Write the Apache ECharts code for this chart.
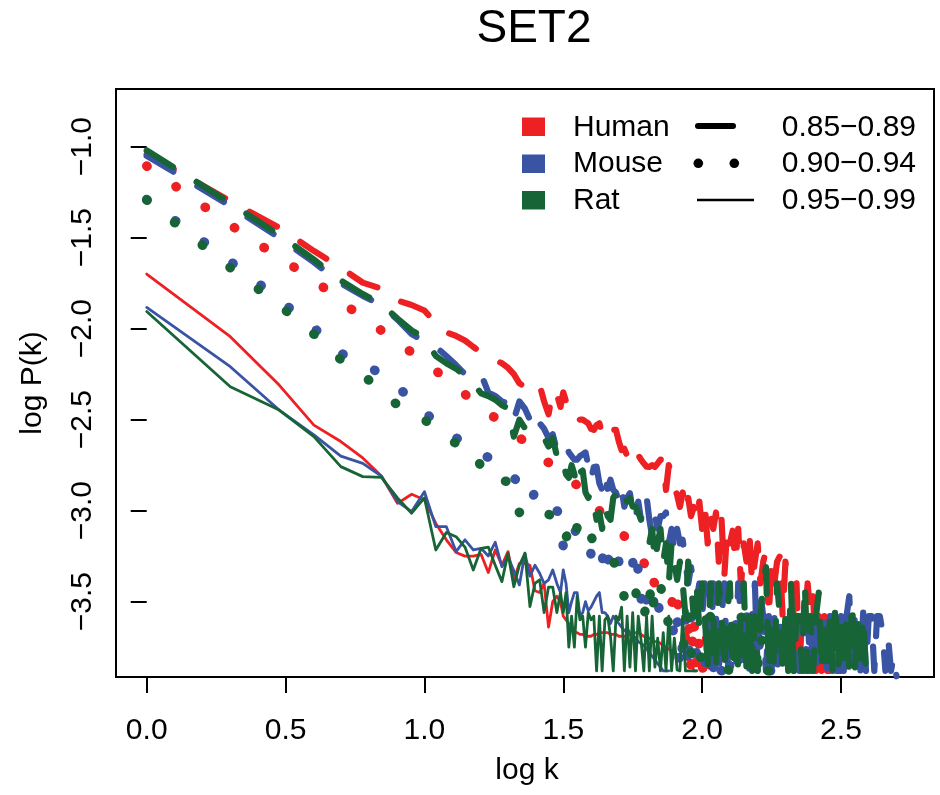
<!DOCTYPE html>
<html>
<head>
<meta charset="utf-8">
<script src="https://cdn.jsdelivr.net/npm/echarts@6/dist/echarts.min.js"></script>
<style>
  html, body { margin: 0; padding: 0; background: #fff; }
  #chart { width: 940px; height: 795px; }
</style>
</head>
<body>
<div id="chart"></div>
<script>
// log10 of degree k (k = 1..30, then a finer grid through the tail)
const logK = [
  0, 0.301, 0.477, 0.602, 0.699, 0.778, 0.845, 0.903, 0.954, 1.000,
  1.041, 1.079, 1.114, 1.146, 1.176, 1.204, 1.230, 1.255, 1.279, 1.301,
  1.322, 1.342, 1.362, 1.380, 1.398, 1.415, 1.431, 1.447, 1.462, 1.477,
  1.49, 1.50, 1.51, 1.52, 1.53, 1.54, 1.55, 1.56, 1.57, 1.58,
  1.59, 1.60, 1.61, 1.62, 1.63, 1.64, 1.65, 1.66, 1.67, 1.68,
  1.69, 1.70, 1.71, 1.72, 1.73, 1.74, 1.75, 1.76, 1.77, 1.78,
  1.79, 1.80, 1.81, 1.82, 1.83, 1.84, 1.85, 1.86, 1.87, 1.88,
  1.89, 1.90, 1.91, 1.92, 1.93, 1.94, 1.95, 1.96, 1.97, 1.98,
  1.99, 2.00, 2.01, 2.02, 2.03, 2.04, 2.05, 2.06, 2.07, 2.08,
  2.09, 2.10, 2.11, 2.12, 2.13, 2.14, 2.15, 2.16, 2.17, 2.18,
  2.19, 2.20, 2.21, 2.22, 2.23, 2.24, 2.25, 2.26, 2.27, 2.28,
  2.29, 2.30, 2.31, 2.32, 2.33, 2.34, 2.35, 2.36, 2.37, 2.38,
  2.39, 2.40, 2.41, 2.42, 2.43, 2.44, 2.45, 2.46, 2.47, 2.48,
  2.49, 2.50, 2.51, 2.52, 2.53, 2.54, 2.55, 2.56, 2.57, 2.58,
  2.59, 2.60, 2.61, 2.62, 2.63, 2.64, 2.65, 2.66, 2.67, 2.68,
  2.69, 2.70
];

// log P(k), threshold 0.85-0.89
const humanA = [
  -1.04, -1.30, -1.445, -1.573, -1.665, -1.747, -1.78, -1.845, -1.87, -1.90,
  -1.97, -2.02, -2.04, -2.065, -2.10, -2.13, -2.15, -2.17, -2.19, -2.215,
  -2.25, -2.30, -2.32, -2.34, -2.33, -2.31, -2.40, -2.47, -2.34, -2.36,
  -2.43, -2.35, -2.40, -2.45, -2.47, -2.46, -2.48, -2.50, -2.50, -2.51,
  -2.52, -2.55, -2.556, -2.53, -2.52, -2.58, -2.61, -2.58, -2.57, -2.556,
  -2.556, -2.62, -2.667, -2.66, -2.70, -2.75, -2.72, -2.70, -2.694, -2.72,
  -2.74, -2.758, -2.76, -2.75, -2.76, -2.74, -2.72, -2.72, -2.886, -2.75,
  -2.80, -2.87, -2.914, -2.98, -2.90, -3.00, -2.93, -3.03, -2.98, -3.05,
  -2.95, -3.10, -2.98, -3.18, -3.03, -3.10, -3.01, -3.28, -3.05, -3.36,
  -3.10, -3.18, -3.11, -3.28, -3.10, -3.42, -3.18, -3.28, -3.12, -3.40,
  -3.28, -3.18, -3.40, -3.28, -3.22, -3.58, -3.28, -3.40, -3.28, -3.25,
  -3.58, -3.28, -3.40, -3.38, -3.58, -3.40, -3.88, -3.58, -3.60, -3.40,
  -3.58, -3.47, -3.88, -3.58, -3.88, -3.58, -3.88, -3.88, -3.58, -3.88,
  -3.88, -3.88
];
const mouseA = [
  -1.05, -1.325, -1.50, -1.635, -1.75, -1.82, -1.87, -1.95, -2.03, -2.07,
  -2.10, -2.15, -2.20, -2.25, -2.27, -2.25, -2.35, -2.37, -2.40, -2.41,
  -2.50, -2.40, -2.44, -2.50, -2.45, -2.52, -2.55, -2.60, -2.58, -2.67,
  -2.66, -2.64, -2.63, -2.68, -2.70, -2.72, -2.72, -2.70, -2.69, -2.68,
  -2.75, -2.83, -2.76, -2.758, -2.85, -2.886, -2.80, -2.88, -2.83, -2.886,
  -2.90, -2.95, -2.88, -2.978, -2.93, -2.904, -3.00, -3.05, -2.95, -3.05,
  -2.93, -2.923, -3.05, -3.14, -3.03, -3.10, -3.03, -3.03, -3.01, -3.18,
  -3.10, -3.234, -3.10, -3.18, -3.16, -3.28, -3.40, -3.31, -3.40, -3.49,
  -3.40, -3.58, -3.40, -3.58, -3.88, -3.40, -3.58, -3.88, -3.58, -3.40,
  -3.88, -3.58, -3.58, -3.88, -3.40, -3.58, -3.88, -3.58, -3.88, -3.58,
  -3.40, -3.88, -3.45, -3.58, -3.88, -3.58, -3.88, -3.58, -3.88, -3.58,
  -3.88, -3.58, -3.88, -3.58, -3.88, -3.58, -3.88, -3.58, -3.88, -3.58,
  -3.88, -3.58, -3.88, -3.58, -3.88, -3.58, -3.88, -3.58, -3.88, -3.58,
  -3.88, -3.58, -3.88, -3.58, -3.47, -3.88, -3.58, -3.60, -3.88, -3.56,
  -3.88, -3.58, -3.58, -3.88, -3.58, -3.58, -3.67, -3.88, -3.70, -3.88,
  -3.80, -3.91
];
const ratA = [
  -1.02, -1.31, -1.485, -1.62, -1.735, -1.81, -1.865, -1.945, -2.01, -2.05,
  -2.15, -2.19, -2.22, -2.26, -2.30, -2.355, -2.37, -2.39, -2.42, -2.437,
  -2.593, -2.50, -2.547, -2.55, -2.56, -2.566, -2.60, -2.648, -2.60, -2.70,
  -2.76, -2.74, -2.80, -2.82, -2.75, -2.80, -2.87, -2.79, -2.78, -2.90,
  -2.93, -2.90, -2.96, -3.05, -3.01, -3.10, -2.98, -3.03, -3.05, -2.93,
  -2.904, -2.90, -2.93, -2.896, -2.95, -2.93, -2.978, -2.98, -3.01, -3.05,
  -3.09, -3.10, -3.18, -3.10, -3.28, -3.18, -3.10, -3.28, -3.18, -3.40,
  -3.18, -3.28, -3.38, -3.28, -3.40, -3.58, -3.28, -3.40, -3.58, -3.40,
  -3.65, -3.40, -3.58, -3.88, -3.40, -3.58, -3.88, -3.40, -3.58, -3.88,
  -3.58, -3.40, -3.88, -3.58, -3.88, -3.58, -3.40, -3.88, -3.58, -3.88,
  -3.58, -3.88, -3.58, -3.40, -3.31, -3.88, -3.58, -3.88, -3.40, -3.58,
  -3.88, -3.58, -3.88, -3.40, -3.88, -3.58, -3.58, -3.88, -3.40, -3.88,
  -3.58, -3.88, -3.58, -3.45, -3.88, -3.58, -3.88, -3.58, -3.88, -3.50,
  -3.88, -3.58, -3.88, -3.58, -3.88, -3.50, -3.88, -3.58, -3.88, -3.58,
  -3.88
];

// log P(k), threshold 0.90-0.94
const humanB = [
  -1.106, -1.43, -1.61, -1.731, -1.85, -1.94, -2.01, -2.08, -2.13, -2.18,
  -2.23, -2.28, -2.32, -2.36, -2.40, -2.43, -2.465, -2.49, -2.52, -2.55,
  -2.57, -2.60, -2.62, -2.65, -2.68, -2.70, -2.72, -2.736, -2.75, -2.77,
  -2.79, -2.80, -2.81, -2.83, -2.84, -2.85, -2.86, -2.877, -2.89, -2.91,
  -2.93, -2.95, -2.96, -2.98, -3.00, -3.02, -3.03, -3.05, -3.06, -3.08,
  -3.10, -3.11, -3.12, -3.14, -3.16, -3.18, -3.18, -3.20, -3.22, -3.23,
  -3.28, -3.34, -3.30, -3.38, -3.40, -3.40, -3.42, -3.44, -3.44, -3.50,
  -3.48, -3.58, -3.49, -3.58, -3.58, -3.70, -3.58, -3.88, -3.58, -3.88,
  -3.70, -3.86, -3.88, -3.58, -3.88, -3.88, -3.58, -3.88, -3.88, -3.88,
  -3.87
];
const mouseB = [
  -1.29, -1.63, -1.84, -1.995, -2.135, -2.19, -2.25, -2.32, -2.39, -2.46,
  -2.51, -2.56, -2.60, -2.63, -2.66, -2.69, -2.707, -2.74, -2.77, -2.79,
  -2.82, -2.85, -2.87, -2.95, -2.90, -2.92, -2.95, -2.936, -2.97, -3.00,
  -3.02, -3.20, -3.10, -3.08, -3.10, -3.12, -3.10, -3.12, -3.115, -3.18,
  -3.18, -3.24, -3.18, -3.20, -3.22, -3.28, -3.18, -3.28, -3.24, -3.28,
  -3.22, -3.28, -3.28, -3.30, -3.25, -3.31, -3.28, -3.40, -3.31, -3.49,
  -3.39, -3.49, -3.46, -3.40, -3.58, -3.50, -3.58, -3.58, -3.60, -3.58,
  -3.60, -3.70, -3.58, -3.88, -3.73, -3.58, -3.88, -3.58, -3.88, -3.77,
  -3.88, -3.77, -3.88, -3.58, -3.88, -3.88, -3.58, -3.87, -3.88, -3.88,
  -3.58, -3.88, -3.88, -3.58, -3.88, -3.88, -3.88, -3.58, -3.88, -3.88,
  -3.88, -3.58, -3.88, -3.88, -3.88, -3.88, -3.88
];
const ratB = [
  -1.293, -1.665, -1.87, -2.03, -2.17, -2.255, -2.34, -2.42, -2.46, -2.50,
  -2.55, -2.60, -2.63, -2.65, -2.663, -2.76, -2.83, -2.84, -2.84, -2.837,
  -2.92, -3.01, -2.99, -2.98, -2.97, -2.97, -3.00, -3.02, -3.03, -3.05,
  -3.05, -3.15, -3.15, -3.10, -3.03, -3.03, -3.10, -3.05, -3.05, -3.10,
  -3.14, -3.14, -3.18, -3.18, -3.20, -3.22, -3.22, -3.25, -3.27, -3.28,
  -3.30, -3.31, -3.40, -3.48, -3.50, -3.51, -3.42, -3.42, -3.58, -3.58,
  -3.59, -3.50, -3.41, -3.58, -3.40, -3.38, -3.38, -3.58, -3.58, -3.62,
  -3.60, -3.65, -3.65, -3.70, -3.72, -3.75, -3.58, -3.78, -3.80, -3.88,
  -3.80, -3.81, -3.88, -3.88, -3.58, -3.88, -3.88, -3.88, -3.88, -3.87,
  -3.87, -3.88, -3.58, -3.58, -3.56, -3.56, -3.88, -3.88, -3.58, -3.88,
  -3.88, -3.88, -3.58, -3.88, -3.88, -3.88, -3.88
];

// log P(k), threshold 0.95-0.99
const humanC = [
  -1.70, -2.044, -2.31, -2.53, -2.62, -2.71, -2.81, -2.96, -2.91, -2.94,
  -3.07, -3.16, -3.23, -3.25, -3.25, -3.24, -3.34, -3.216, -3.30, -3.225,
  -3.38, -3.29, -3.29, -3.30, -3.44, -3.45, -3.40, -3.64, -3.50, -3.47,
  -3.50, -3.58, -3.60, -3.62, -3.65, -3.67, -3.67, -3.68, -3.68, -3.69,
  -3.69, -3.69, -3.68, -3.68, -3.67, -3.67, -3.67, -3.67, -3.68, -3.68,
  -3.68, -3.69, -3.69, -3.69, -3.69, -3.68, -3.68, -3.67, -3.67, -3.68,
  -3.69, -3.70, -3.70, -3.71, -3.72, -3.72, -3.73, -3.74, -3.75, -3.76,
  -3.77, -3.78, -3.79, -3.80, -3.81, -3.81, -3.82, -3.82, -3.88, -3.88
];
const mouseC = [
  -1.883, -2.209, -2.447, -2.584, -2.70, -2.74, -2.81, -2.95, -3.005, -2.896,
  -3.088, -3.088, -3.225, -3.16, -3.216, -3.207, -3.249, -3.174, -3.308, -3.253,
  -3.33, -3.408, -3.234, -3.36, -3.30, -3.344, -3.40, -3.38, -3.326, -3.40,
  -3.45, -3.326, -3.40, -3.56, -3.50, -3.45, -3.45, -3.58, -3.56, -3.50,
  -3.55, -3.53, -3.50, -3.47, -3.45, -3.56, -3.56, -3.58, -3.62, -3.58,
  -3.60, -3.62, -3.64, -3.66, -3.65, -3.67, -3.68, -3.70, -3.72, -3.73,
  -3.74, -3.76, -3.78, -3.80, -3.82, -3.84, -3.86, -3.88, -3.88, -3.88
];
const ratC = [
  -1.906, -2.319, -2.447, -2.593, -2.758, -2.813, -2.817, -2.93, -3.014, -2.93,
  -3.216, -3.12, -3.143, -3.20, -3.326, -3.207, -3.20, -3.30, -3.39, -3.234,
  -3.418, -3.30, -3.234, -3.527, -3.40, -3.38, -3.56, -3.42, -3.42, -3.56,
  -3.45, -3.56, -3.45, -3.75, -3.58, -3.75, -3.47, -3.60, -3.58, -3.75,
  -3.56, -3.60, -3.58, -3.88, -3.58, -3.88, -3.60, -3.58, -3.69, -3.88,
  -3.58, -3.60, -3.53, -3.88, -3.58, -3.86, -3.56, -3.88, -3.58, -3.71,
  -3.88, -3.58, -3.88, -3.58, -3.86, -3.70, -3.88, -3.67, -3.88, -3.58,
  -3.88, -3.70, -3.875, -3.88, -3.58, -3.88, -3.88, -3.88, -3.88, -3.88
];

const xTicks = [0, 0.5, 1.0, 1.5, 2.0, 2.5];
const yTicks = [-3.5, -3.0, -2.5, -2.0, -1.5, -1.0];

const RED = '#ed2024', BLUE = '#3a54a4', GREEN = '#176536';
const FONT = '"Liberation Sans", Arial, Helvetica, sans-serif';

const styles = {
  thick: { width: 6.2, type: [31, 28] },
  dot:   { width: 9.5, type: [0.5, 35.2] },
  thin:  { width: 2.8, type: 'solid' }
};

function line(name, ys, color, kind) {
  return {
    name: name,
    type: 'line',
    data: ys.map((y, i) => [logK[i], y]),
    showSymbol: false,
    symbol: 'none',
    silent: true,
    clip: true,
    lineStyle: {
      color: color,
      width: styles[kind].width,
      type: styles[kind].type,
      cap: 'round',
      join: 'round'
    }
  };
}

const minus = v => (v < 0 ? '\u2212' : '') + Math.abs(v).toFixed(1);

const chart = echarts.init(document.getElementById('chart'));
chart.setOption({
  animation: false,
  backgroundColor: '#fff',
  grid: {
    left: 116, right: 6, top: 89, bottom: 118,
    show: true, borderColor: '#000', borderWidth: 2,
    backgroundColor: 'rgba(0,0,0,0)'
  },
  xAxis: {
    type: 'value', min: -0.1106, max: 2.835,
    axisLine: { show: false },
    splitLine: { show: false },
    axisTick: { show: true, customValues: xTicks, length: 16, lineStyle: { color: '#000', width: 2 } },
    axisLabel: { customValues: xTicks, formatter: v => v.toFixed(1), fontSize: 30, color: '#000', fontFamily: FONT, margin: 39 }
  },
  yAxis: {
    type: 'value', min: -3.914, max: -0.683,
    axisLine: { show: false },
    splitLine: { show: false },
    axisTick: { show: true, customValues: yTicks, length: 16, lineStyle: { color: '#000', width: 2 } },
    axisLabel: { customValues: yTicks, formatter: minus, rotate: 90, fontSize: 30, color: '#000', fontFamily: FONT, margin: 18 }
  },
  series: [
    line('Human 0.85-0.89', humanA, RED, 'thick'),
    line('Human 0.90-0.94', humanB, RED, 'dot'),
    line('Human 0.95-0.99', humanC, RED, 'thin'),
    line('Mouse 0.85-0.89', mouseA, BLUE, 'thick'),
    line('Mouse 0.90-0.94', mouseB, BLUE, 'dot'),
    line('Mouse 0.95-0.99', mouseC, BLUE, 'thin'),
    line('Rat 0.85-0.89', ratA, GREEN, 'thick'),
    line('Rat 0.90-0.94', ratB, GREEN, 'dot'),
    line('Rat 0.95-0.99', ratC, GREEN, 'thin')
  ],
  graphic: [
    { type: 'text', x: 534, y: 29, style: { text: 'SET2', font: '46px ' + FONT, fill: '#000', align: 'center', verticalAlign: 'middle' } },
    { type: 'text', x: 527, y: 771, style: { text: 'log k', font: '30px ' + FONT, fill: '#000', align: 'center', verticalAlign: 'middle' } },
    { type: 'text', x: 33, y: 383, rotation: Math.PI / 2, style: { text: 'log P(k)', font: '30px ' + FONT, fill: '#000', align: 'center', verticalAlign: 'middle' } },
    // legend: species colours
    { type: 'rect', shape: { x: 522, y: 117.5, width: 23, height: 18.5 }, style: { fill: RED } },
    { type: 'rect', shape: { x: 522, y: 154.5, width: 23, height: 18.5 }, style: { fill: BLUE } },
    { type: 'rect', shape: { x: 522, y: 191, width: 23, height: 18.5 }, style: { fill: GREEN } },
    { type: 'text', x: 573, y: 127.3, style: { text: 'Human', font: '30px ' + FONT, fill: '#000', verticalAlign: 'middle' } },
    { type: 'text', x: 573, y: 164.2, style: { text: 'Mouse', font: '30px ' + FONT, fill: '#000', verticalAlign: 'middle' } },
    { type: 'text', x: 573, y: 200.8, style: { text: 'Rat', font: '30px ' + FONT, fill: '#000', verticalAlign: 'middle' } },
    // legend: thresholds
    { type: 'line', shape: { x1: 698, y1: 126, x2: 733, y2: 126 }, style: { stroke: '#000', lineWidth: 6, lineCap: 'round' } },
    { type: 'circle', shape: { cx: 698.3, cy: 163.3, r: 4.8 }, style: { fill: '#000' } },
    { type: 'circle', shape: { cx: 734.3, cy: 163.3, r: 4.8 }, style: { fill: '#000' } },
    { type: 'line', shape: { x1: 697, y1: 200, x2: 754, y2: 200 }, style: { stroke: '#000', lineWidth: 2.6 } },
    { type: 'text', x: 781.7, y: 127.3, style: { text: '0.85\u22120.89', font: '30px ' + FONT, fill: '#000', verticalAlign: 'middle' } },
    { type: 'text', x: 781.7, y: 164.2, style: { text: '0.90\u22120.94', font: '30px ' + FONT, fill: '#000', verticalAlign: 'middle' } },
    { type: 'text', x: 781.7, y: 200.8, style: { text: '0.95\u22120.99', font: '30px ' + FONT, fill: '#000', verticalAlign: 'middle' } }
  ]
});
</script>
</body>
</html>
